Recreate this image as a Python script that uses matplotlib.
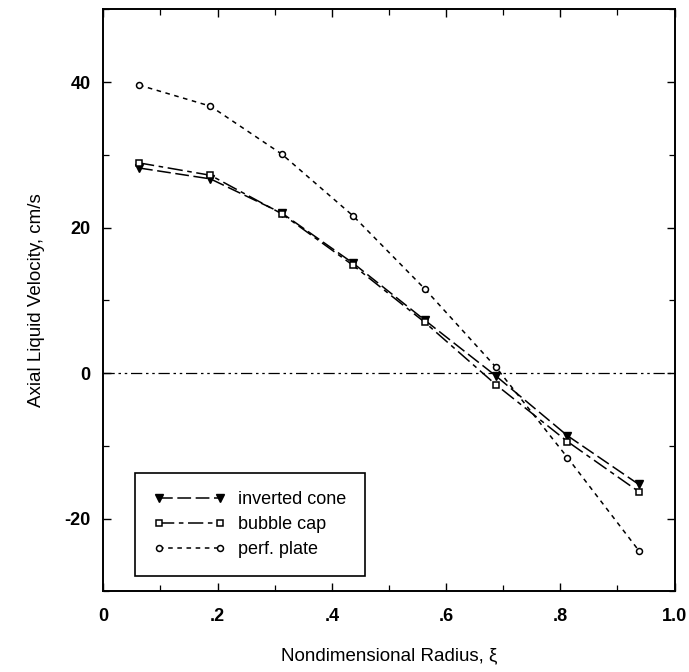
import numpy as np
import matplotlib
matplotlib.use("Agg")
import matplotlib.pyplot as plt
from matplotlib.ticker import MultipleLocator, FixedFormatter, FixedLocator

plt.rcParams['font.family'] = ['Liberation Sans', 'DejaVu Sans']
plt.rcParams['axes.unicode_minus'] = False

# radial positions (ring centres)
xi = [0.0625, 0.1875, 0.3125, 0.4375, 0.5625, 0.6875, 0.8125, 0.9375]
inverted_cone = [28.2, 26.7, 22.0, 15.1, 7.3, -0.4, -8.6, -15.3]
bubble_cap = [28.9, 27.2, 21.9, 14.8, 7.0, -1.6, -9.4, -16.3]
perf_plate = [39.6, 36.7, 30.1, 21.6, 11.6, 0.8, -11.6, -24.4]

xticks = [0, 0.2, 0.4, 0.6, 0.8, 1.0]
xticklabels = ['0', '.2', '.4', '.6', '.8', '1.0']
yticks = [-20, 0, 20, 40]

fig = plt.figure(figsize=(6.89, 6.72), dpi=100)
ax = fig.add_axes([0.150, 0.120, 0.829, 0.866])

# zero reference line
ax.axhline(0, color='black', lw=0.9, ls=(0, (9, 3, 2, 3, 2, 3)))

ax.plot(xi, inverted_cone, color='black', lw=1.1, ls=(0, (9, 3)),
        marker='v', ms=5.5, mfc='black', mec='black', label='inverted cone')
ax.plot(xi, bubble_cap, color='black', lw=1.1, ls=(0, (10, 3, 3, 3)),
        marker='s', ms=4.8, mfc='white', mec='black', mew=1.1, label='bubble cap')
ax.plot(xi, perf_plate, color='black', lw=1.1, ls=(0, (3, 3)),
        marker='o', ms=4.3, mfc='white', mec='black', mew=1.1, label='perf. plate')

ax.set_xlim(0, 1.0)
ax.set_ylim(-30, 50)
ax.xaxis.set_major_locator(FixedLocator(xticks))
ax.xaxis.set_major_formatter(FixedFormatter(xticklabels))
ax.xaxis.set_minor_locator(MultipleLocator(0.1))
ax.yaxis.set_major_locator(FixedLocator(yticks))
ax.yaxis.set_minor_locator(MultipleLocator(10))

ax.tick_params(which='both', direction='in', top=True, right=True)
ax.tick_params(which='major', length=6, width=1.0, labelsize=13)
ax.tick_params(which='minor', length=4, width=0.9)
ax.tick_params(axis='x', which='major', pad=12)
ax.tick_params(axis='y', which='major', pad=9)
for lab in ax.get_xticklabels() + ax.get_yticklabels():
    lab.set_fontweight('bold')
for sp in ax.spines.values():
    sp.set_linewidth(1.4)

ax.set_xlabel('Nondimensional Radius, ξ', fontsize=13.5, labelpad=16)
ax.set_ylabel('Axial Liquid Velocity, cm/s', fontsize=13.5, labelpad=14)

leg = ax.legend(loc='lower left', bbox_to_anchor=(0.056, 0.026), fontsize=13,
                numpoints=2, handlelength=4.0, handletextpad=0.7,
                labelspacing=0.45, borderpad=1.0, borderaxespad=0,
                fancybox=False, framealpha=1, edgecolor='black')
leg.get_frame().set_linewidth(1.2)

fig.savefig('out.png', dpi=100)
